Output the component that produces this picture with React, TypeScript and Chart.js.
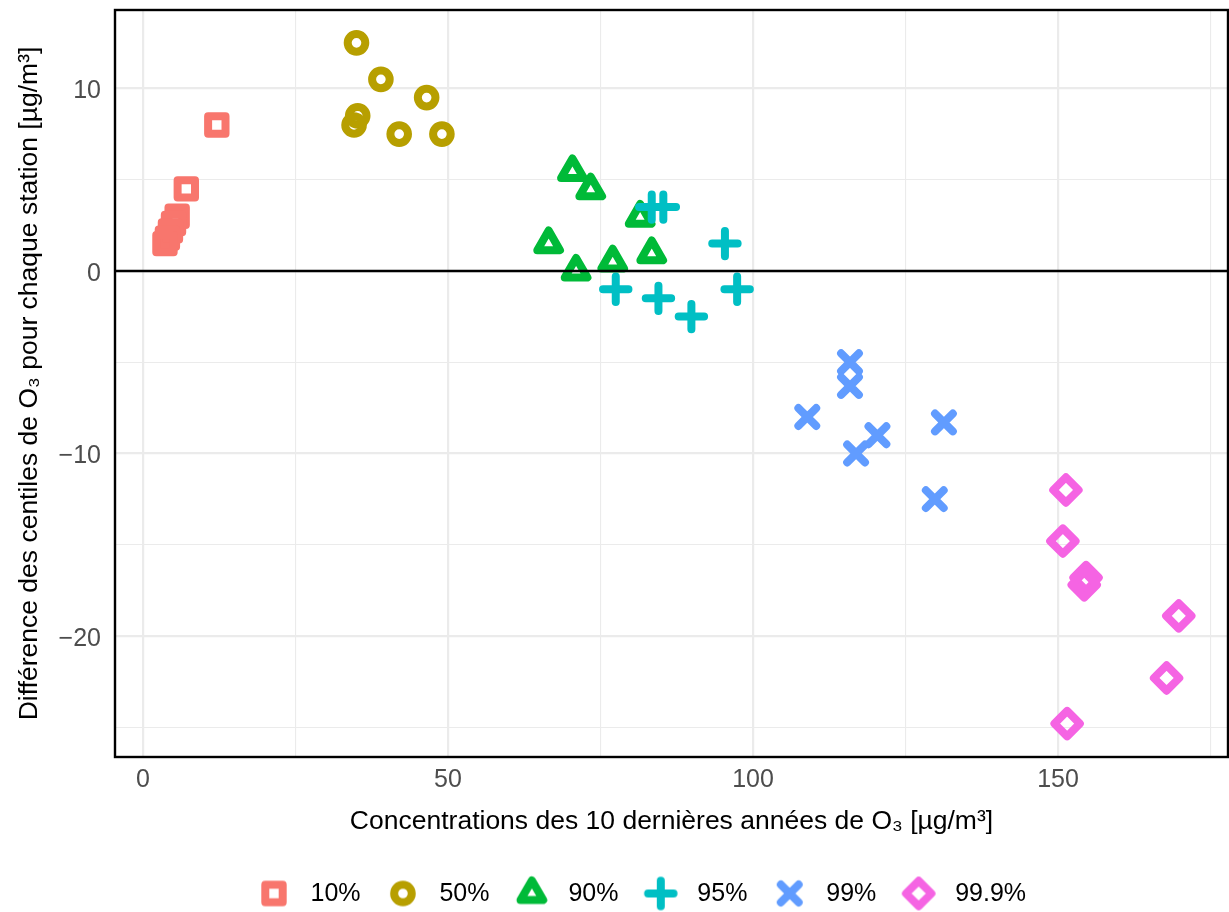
import React, { useEffect, useRef } from 'react';
import { Chart, registerables } from 'chart.js';
import { drawPoint } from 'chart.js/helpers';

Chart.register(...registerables);

// ---- Data ----
const SERIES_LABELS = ['10%', '50%', '90%', '95%', '99%', '99.9%'];
const SERIES_COLORS = ['#F8766D', '#B79F00', '#00BA38', '#00BFC4', '#619CFF', '#F564E3'];
const SERIES_SHAPES = ['rect', 'circle', 'triangle', 'cross', 'crossRot', 'rectRot'];
const SERIES_RADII = [12.3, 8.8, 13.1, 12.7, 12.6, 12.7];

const P10_X = [12.1, 7.1, 5.6, 5.0, 4.5, 4.0, 3.6];
const P10_Y = [8.0, 4.5, 3.0, 2.6, 2.2, 1.8, 1.5];
const P50_X = [35.0, 39.0, 46.5, 35.2, 34.6, 42.0, 49.0];
const P50_Y = [12.5, 10.5, 9.5, 8.5, 8.0, 7.5, 7.5];
const P90_X = [70.4, 73.4, 81.5, 66.5, 71.0, 77.0, 83.4];
const P90_Y = [5.45, 4.45, 2.95, 1.5, 0.0, 0.5, 0.95];
const P95_X = [83.4, 85.3, 95.4, 77.5, 84.5, 89.9, 97.4];
const P95_Y = [3.5, 3.5, 1.5, -1.0, -1.5, -2.5, -1.0];
const P99_X = [115.9, 115.9, 108.9, 120.4, 116.9, 131.3, 129.8];
const P99_Y = [-5.0, -6.3, -8.0, -9.0, -10.0, -8.3, -12.5];
const P999_X = [151.3, 150.8, 154.6, 154.3, 169.8, 167.8, 151.5];
const P999_Y = [-12.0, -14.8, -16.8, -17.2, -18.9, -22.3, -24.8];

const SERIES_X = [P10_X, P50_X, P90_X, P95_X, P99_X, P999_X];
const SERIES_Y = [P10_Y, P50_Y, P90_Y, P95_Y, P99_Y, P999_Y];

const HLINE_Y = 0;

const X_MIN = -4.59;
const X_MAX = 177.87;
const Y_MIN = -26.63;
const Y_MAX = 14.3;

const X_TICKS = [0, 25, 50, 75, 100, 125, 150, 175];
const X_LABELED = [0, 50, 100, 150];
const Y_TICKS = [-25, -20, -15, -10, -5, 0, 5, 10];
const Y_LABELED = [-20, -10, 0, 10];

const X_TITLE = 'Concentrations des 10 dernières années de O\u2083 [\u00B5g/m\u00B3]';
const Y_TITLE = 'Différence des centiles de O\u2083 pour chaque station [\u00B5g/m\u00B3]';

const FONT = "'Liberation Sans', Arial, Helvetica, sans-serif";
const STROKE = 8;

function makeIcon(i: number): HTMLCanvasElement {
  const W = 80;
  const H = 44;
  const c = document.createElement('canvas');
  c.width = W;
  c.height = H;
  const ctx = c.getContext('2d') as CanvasRenderingContext2D;
  ctx.lineJoin = 'round';
  ctx.lineCap = 'round';
  ctx.strokeStyle = SERIES_COLORS[i];
  ctx.fillStyle = 'rgba(0,0,0,0)';
  ctx.lineWidth = STROKE;
  drawPoint(ctx, { pointStyle: SERIES_SHAPES[i], radius: SERIES_RADII[i], rotation: 0, borderWidth: STROKE } as any, W / 2 + 9, H / 2 - 1);
  return c;
}

const panelPlugin = {
  id: 'panelFrame',
  beforeDatasetsDraw(chart: any) {
    chart.ctx.save();
    chart.ctx.lineJoin = 'round';
    chart.ctx.lineCap = 'round';
  },
  afterDatasetsDraw(chart: any) {
    chart.ctx.restore();
    const { ctx, chartArea: a } = chart;
    ctx.save();
    ctx.strokeStyle = '#000000';
    ctx.lineWidth = 2.4;
    ctx.strokeRect(a.left, a.top, a.right - a.left, a.bottom - a.top);
    ctx.restore();
  },
};

const fmt = (v: number) => (v < 0 ? '\u2212' + Math.abs(v) : String(v));

export default function App() {
  const ref = useRef<HTMLCanvasElement>(null);

  useEffect(() => {
    const canvas = ref.current;
    if (!canvas) return;
    const icons = SERIES_LABELS.map((_, i) => makeIcon(i));

    const seriesDatasets = SERIES_LABELS.map((label, i) => ({
      label,
      data: SERIES_X[i].map((x, j) => ({ x, y: SERIES_Y[i][j] })),
      pointStyle: SERIES_SHAPES[i],
      pointRadius: SERIES_RADII[i],
      pointHoverRadius: SERIES_RADII[i],
      pointBorderWidth: STROKE,
      pointHoverBorderWidth: STROKE,
      pointBorderColor: SERIES_COLORS[i],
      pointBackgroundColor: 'rgba(0,0,0,0)',
      borderColor: SERIES_COLORS[i],
      backgroundColor: 'rgba(0,0,0,0)',
      showLine: false,
      order: 5 - i,
    }));

    const zeroLine = {
      label: 'zero',
      data: [
        { x: X_MIN, y: HLINE_Y },
        { x: X_MAX, y: HLINE_Y },
      ],
      showLine: true,
      pointRadius: 0,
      pointHoverRadius: 0,
      borderColor: '#000000',
      borderWidth: 2.5,
      backgroundColor: 'rgba(0,0,0,0)',
      order: -1,
    };

    const chart = new Chart(canvas, {
      type: 'scatter',
      data: { datasets: [zeroLine, ...seriesDatasets] as any },
      plugins: [panelPlugin],
      options: {
        responsive: false,
        devicePixelRatio: 1,
        animation: false,
        events: [],
        layout: { autoPadding: false, padding: { left: 30, right: 1, top: 10, bottom: -5 } },
        plugins: {
          tooltip: { enabled: false },
          title: { display: false },
          legend: {
            display: true,
            position: 'bottom',
            align: 'center',
            title: { display: true, text: ' ', font: { family: FONT, size: 10 }, padding: 0 },
            labels: {
              usePointStyle: true,
              pointStyleWidth: 66.1,
              padding: 0.3,
              color: '#000000',
              font: { family: FONT, size: 25 },
              generateLabels: () =>
                SERIES_LABELS.map((text, i) => ({
                  text,
                  pointStyle: icons[i],
                  fillStyle: 'rgba(0,0,0,0)',
                  strokeStyle: 'rgba(0,0,0,0)',
                  lineWidth: 0,
                  hidden: false,
                  datasetIndex: i + 1,
                  fontColor: '#000000',
                })) as any,
            },
          },
        },
        scales: {
          x: {
            type: 'linear',
            min: X_MIN,
            max: X_MAX,
            afterBuildTicks: (scale: any) => {
              scale.ticks = X_TICKS.map((v) => ({ value: v }));
            },
            afterFit: (scale: any) => {
              scale.height = 112.7;
              scale.paddingLeft = 0;
              scale.paddingRight = 0;
              scale.paddingTop = 0;
              scale.paddingBottom = 0;
            },
            ticks: {
              autoSkip: false,
              maxRotation: 0,
              minRotation: 0,
              padding: 8,
              color: '#4D4D4D',
              font: { family: FONT, size: 25 },
              callback: (v: any) => (X_LABELED.includes(Number(v)) ? fmt(Number(v)) : ''),
            },
            grid: {
              drawTicks: false,
              color: '#EBEBEB',
              lineWidth: (c: any) => (c.tick && X_LABELED.includes(c.tick.value) ? 2.2 : 1.1),
            },
            border: { display: false },
            title: {
              display: true,
              text: X_TITLE,
              color: '#000000',
              font: { family: FONT, size: 26.5 },
              padding: { top: 0, bottom: 32.6 },
            },
          },
          y: {
            type: 'linear',
            min: Y_MIN,
            max: Y_MAX,
            afterBuildTicks: (scale: any) => {
              scale.ticks = Y_TICKS.map((v) => ({ value: v }));
            },
            afterFit: (scale: any) => {
              scale.width = 85;
              scale.paddingLeft = 0;
              scale.paddingRight = 0;
              scale.paddingTop = 0;
              scale.paddingBottom = 0;
            },
            ticks: {
              autoSkip: false,
              padding: 14,
              labelOffset: 3,
              color: '#4D4D4D',
              font: { family: FONT, size: 25 },
              callback: (v: any) => (Y_LABELED.includes(Number(v)) ? fmt(Number(v)) : ''),
            },
            grid: {
              drawTicks: false,
              color: '#EBEBEB',
              lineWidth: (c: any) => (c.tick && Y_LABELED.includes(c.tick.value) ? 2.2 : 1.1),
            },
            border: { display: false },
            title: {
              display: true,
              text: Y_TITLE,
              color: '#000000',
              font: { family: FONT, size: 26.5 },
              padding: { top: -16.2, bottom: 0 },
            },
          },
        },
      } as any,
    });

    return () => chart.destroy();
  }, []);

  return (
    <div style={{ position: 'absolute', left: 0, top: 0, width: 1229, height: 912, background: '#ffffff' }}>
      <canvas ref={ref} width={1229} height={912} style={{ width: 1229, height: 912, display: 'block' }} />
    </div>
  );
}
